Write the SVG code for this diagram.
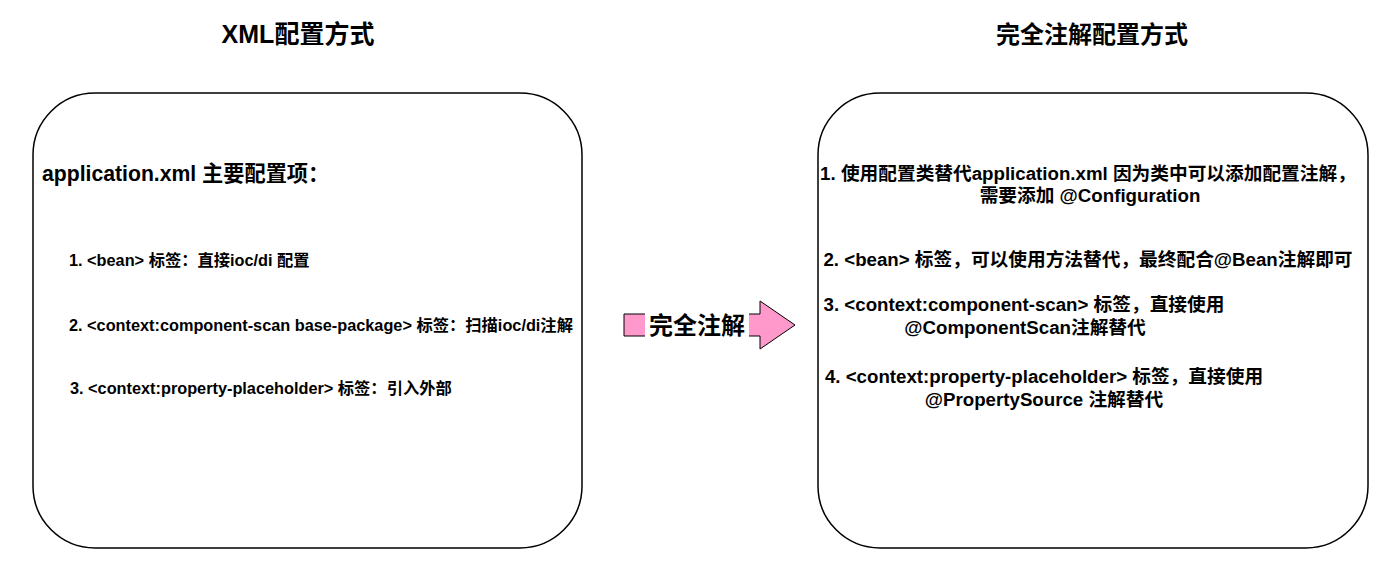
<svg xmlns="http://www.w3.org/2000/svg" width="1389" height="580" viewBox="0 0 1389 580">
<style>
text{font-family:"Liberation Sans","Noto Sans CJK SC",sans-serif;font-weight:bold;fill:#000}
.box{fill:#fff;stroke:#000;stroke-width:1.5}
.title{font-size:24px;text-anchor:middle}
.l{font-size:16.3px}
.r{font-size:18.7px;text-anchor:middle}
</style>
<rect width="1389" height="580" fill="#fff"/>
<g id="title-left"><text class="title" x="298" y="43" style="font-size:25px">XML配置方式</text></g>
<g id="title-right"><text class="title" x="1092" y="43">完全注解配置方式</text></g>
<g id="xml-box">
<rect class="box" x="33" y="93" width="549" height="455" rx="62" ry="62"/>
<text x="42" y="181" style="font-size:21.2px">application.xml 主要配置项：</text>
<text class="l" x="69" y="266">1. &lt;bean&gt; 标签：直接ioc/di 配置</text>
<text class="l" x="69" y="331">2. &lt;context:component-scan base-package&gt; 标签：扫描ioc/di注解</text>
<text class="l" x="70" y="394">3. &lt;context:property-placeholder&gt; 标签：引入外部</text>
</g>
<g id="annotation-box">
<rect class="box" x="818" y="93" width="550" height="455" rx="62" ry="62"/>
<text class="r" x="1088" y="180">1. 使用配置类替代application.xml 因为类中可以添加配置注解，</text>
<text class="r" x="1090" y="202">需要添加 @Configuration</text>
<text class="r" x="1088" y="266">2. &lt;bean&gt; 标签，可以使用方法替代，最终配合@Bean注解即可</text>
<text class="r" x="1024" y="311">3. &lt;context:component-scan&gt; 标签，直接使用</text>
<text class="r" x="1025" y="334">@ComponentScan注解替代</text>
<text class="r" x="1044" y="383">4. &lt;context:property-placeholder&gt; 标签，直接使用</text>
<text class="r" x="1044" y="406">@PropertySource 注解替代</text>
</g>
<g id="connectors">
<polygon points="624,314 760,314 760,301 795,325 760,349 760,336 624,336" fill="#FF99CC" stroke="#000" stroke-width="1"/>
<rect x="645" y="312" width="104" height="27" fill="#fff"/>
<text x="697" y="334" style="font-size:24px;text-anchor:middle">完全注解</text>
</g>
</svg>
